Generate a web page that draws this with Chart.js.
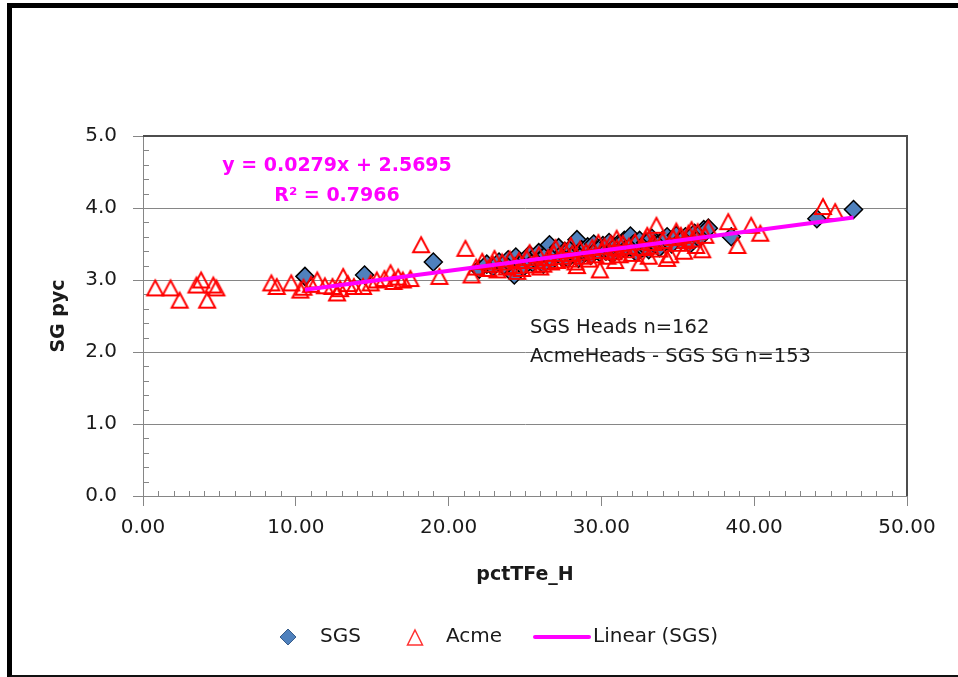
<!DOCTYPE html>
<html><head><meta charset="utf-8">
<script src="https://cdn.jsdelivr.net/npm/chart.js@4.4.0/dist/chart.umd.min.js"></script>
<style>
html,body{margin:0;padding:0;background:#fff;overflow:hidden;}
#wrap{position:relative;width:958px;height:677px;overflow:hidden;}
#frame{position:absolute;left:7px;top:3px;width:1000px;height:675px;box-sizing:border-box;border-top:5px solid #000;border-left:5px solid #000;border-bottom:3px solid #111;pointer-events:none;}
canvas{position:absolute;left:0;top:0;}
</style></head><body>
<div id="wrap"><canvas id="c" width="958" height="677"></canvas><div id="frame"></div></div>
<script>
// ---- data ----
const sgsX = [10.6,14.5,19.0,22.0,22.5,22.9,23.3,23.6,23.9,24.1,24.3,24.4,24.7,24.9,25.1,25.3,25.5,25.7,25.9,26.1,26.2,26.4,26.6,26.8,27.0,27.2,27.4,27.6,27.8,28.0,28.2,28.4,28.5,28.7,28.9,29.1,29.3,29.5,29.7,29.9,30.1,30.3,30.5,30.7,30.9,31.1,31.3,31.5,31.7,31.9,32.1,32.3,32.5,32.7,32.9,33.1,33.3,33.5,33.8,34.0,34.3,34.6,34.9,35.2,35.5,35.8,36.1,36.4,36.7,37.0,38.5,44.1,46.5];
const sgsY = [3.05,3.07,3.25,3.15,3.22,3.18,3.25,3.20,3.28,3.22,3.07,3.32,3.25,3.18,3.30,3.35,3.24,3.28,3.38,3.30,3.22,3.35,3.49,3.28,3.38,3.45,3.32,3.40,3.30,3.44,3.36,3.56,3.30,3.42,3.38,3.46,3.34,3.50,3.42,3.38,3.48,3.40,3.52,3.36,3.46,3.50,3.42,3.55,3.45,3.61,3.50,3.38,3.55,3.45,3.52,3.42,3.58,3.50,3.45,3.55,3.60,3.50,3.62,3.55,3.60,3.50,3.65,3.58,3.70,3.72,3.60,3.85,3.98];
const acmeX = [0.8,1.8,2.4,3.5,3.8,4.2,4.6,4.8,8.4,8.75,9.7,10.3,10.5,11.0,11.4,11.9,12.4,12.7,12.9,13.1,13.4,13.8,14.4,14.9,15.3,15.8,16.2,16.4,16.7,17.0,17.5,18.2,19.4,21.1,21.5,
  21.8,22.2,22.6,22.9,23.0,23.2,23.5,23.8,24.0,24.3,24.5,24.6,24.8,25.1,25.3,25.5,25.7,25.9,26.0,26.2,26.5,26.7,26.9,27.0,27.1,27.4,27.6,27.9,28.0,28.1,28.3,28.4,28.6,28.8,29.0,29.2,29.4,29.6,29.8,29.9,30.0,30.2,30.4,30.6,30.8,30.9,31.0,31.0,31.2,31.4,31.6,31.8,32.0,32.2,32.5,32.7,32.9,33.0,33.1,33.2,33.4,33.6,33.8,34.0,34.3,34.5,34.7,34.9,35.0,35.2,35.4,35.5,35.7,35.9,36.0,36.2,36.3,36.6,36.8,37.0,
  38.3,38.9,39.8,40.4,44.5,45.3];
const acmeY = [2.89,2.89,2.72,2.93,3.00,2.72,2.93,2.89,2.96,2.91,2.96,2.86,2.90,2.94,3.00,2.92,2.91,2.82,2.88,3.05,2.95,2.91,2.91,2.96,3.00,3.02,3.10,2.98,3.04,3.00,3.02,3.49,3.05,3.44,3.07,
  3.18,3.26,3.16,3.22,3.30,3.14,3.25,3.18,3.29,3.20,3.12,3.27,3.16,3.31,3.38,3.21,3.27,3.35,3.18,3.22,3.31,3.25,3.37,3.45,3.27,3.33,3.41,3.29,3.48,3.37,3.25,3.20,3.43,3.33,3.39,3.29,3.45,3.35,3.52,3.14,3.41,3.47,3.33,3.51,3.39,3.27,3.45,3.58,3.35,3.51,3.42,3.47,3.37,3.53,3.24,3.45,3.57,3.62,3.33,3.47,3.52,3.76,3.43,3.55,3.30,3.35,3.59,3.68,3.51,3.62,3.40,3.55,3.65,3.70,3.57,3.48,3.67,3.42,3.62,3.72,
  3.81,3.48,3.76,3.65,4.02,3.95];
const trendX = [10.6, 46.5];
const trendY = [2.865, 3.867];
const xTickValues = [0, 10, 20, 30, 40, 50];
const yTickValues = [0, 1, 2, 3, 4, 5];
const seriesNames = ['SGS', 'Acme', 'Linear (SGS)'];
const eqText = 'y = 0.0279x + 2.5695';
const r2Text = 'R\u00B2 = 0.7966';
const noteLines = ['SGS Heads n=162', 'AcmeHeads - SGS SG n=153'];

const FONT = '"DejaVu Sans", "Liberation Sans", sans-serif';
const GRID = '#868686';
const TXT = '#1a1a1a';

function pts(xs, ys){ return xs.map((x,i)=>({x, y: ys[i]})); }

// triangle marker image (hollow red, as in reference)
function triImg(w, h, lw, color){
  const c = document.createElement('canvas');
  c.width = w + 4; c.height = h + 4;
  const g = c.getContext('2d');
  g.strokeStyle = color; g.lineWidth = lw; g.lineJoin = 'miter';
  g.beginPath();
  g.moveTo(c.width/2, 2 + lw/2);
  g.lineTo(c.width - 2 - lw/2, c.height - 2 - lw/2);
  g.lineTo(2 + lw/2, c.height - 2 - lw/2);
  g.closePath(); g.stroke();
  return c;
}
const triMarker = triImg(18, 17, 2, '#ff0000');

const extras = {
  id: 'extras',
  beforeDatasetsDraw(chart){
    const {ctx, chartArea:a, scales:{x, y}} = chart;
    ctx.save();
    ctx.strokeStyle = GRID; ctx.lineWidth = 1;
    ctx.beginPath();
    for (let k = 1; k < 25; k++){
      if (k % 5 === 0) continue;
      const py = Math.round(y.getPixelForValue(k/5)) + 0.5;
      ctx.moveTo(a.left, py); ctx.lineTo(a.left + 6, py);
    }
    for (let k = 1; k < 50; k++){
      if (k % 10 === 0) continue;
      const px = Math.round(x.getPixelForValue(k)) + 0.5;
      ctx.moveTo(px, a.bottom); ctx.lineTo(px, a.bottom - 5);
    }
    ctx.stroke();
    // plot-area border top and right
    ctx.strokeStyle = '#4d4d4d'; ctx.lineWidth = 2;
    ctx.beginPath();
    ctx.moveTo(a.left, a.top); ctx.lineTo(a.right, a.top); ctx.lineTo(a.right, a.bottom);
    ctx.stroke();
    ctx.restore();
  },
  afterDraw(chart){
    const {ctx} = chart;
    ctx.save();
    // trendline equation
    ctx.fillStyle = '#ff00ff';
    ctx.font = 'bold 19px ' + FONT;
    ctx.textAlign = 'center'; ctx.textBaseline = 'alphabetic';
    ctx.fillText(eqText, 337, 171);
    ctx.fillText(r2Text, 337, 201);
    // notes
    ctx.fillStyle = TXT;
    ctx.font = '19.5px ' + FONT;
    ctx.textAlign = 'left';
    ctx.fillText(noteLines[0], 530, 333);
    ctx.fillText(noteLines[1], 530, 362);
    // legend
    const ly = 637;
    ctx.font = '20px ' + FONT;
    ctx.textBaseline = 'middle';
    ctx.beginPath();
    ctx.moveTo(288, ly - 8); ctx.lineTo(296, ly); ctx.lineTo(288, ly + 8); ctx.lineTo(280, ly); ctx.closePath();
    ctx.fillStyle = '#4f81bd'; ctx.fill();
    ctx.strokeStyle = '#385d8a'; ctx.lineWidth = 1; ctx.stroke();
    ctx.fillStyle = TXT; ctx.fillText(seriesNames[0], 320, ly);
    ctx.beginPath();
    ctx.moveTo(415, ly - 7); ctx.lineTo(422.5, ly + 8); ctx.lineTo(407.5, ly + 8); ctx.closePath();
    ctx.strokeStyle = '#ff3333'; ctx.lineWidth = 1.5; ctx.stroke();
    ctx.fillStyle = TXT; ctx.fillText(seriesNames[1], 446, ly);
    ctx.beginPath(); ctx.moveTo(535, ly); ctx.lineTo(589, ly);
    ctx.strokeStyle = '#ff00ff'; ctx.lineWidth = 4; ctx.lineCap = 'round'; ctx.stroke();
    ctx.fillStyle = TXT; ctx.fillText(seriesNames[2], 593, ly);
    ctx.restore();
  }
};

new Chart(document.getElementById('c'), {
  type: 'scatter',
  data: {
    datasets: [
      { label: seriesNames[0], data: pts(sgsX, sgsY), order: 2,
        pointStyle: 'rectRot', pointRadius: 9, pointHoverRadius: 9,
        backgroundColor: '#4f81bd', borderColor: '#000000', borderWidth: 1.5 },
      { label: seriesNames[1], data: pts(acmeX, acmeY), order: 1,
        pointStyle: triMarker, pointRadius: 9,
        backgroundColor: 'rgba(0,0,0,0)', borderColor: '#ff0000', borderWidth: 2 },
      { label: seriesNames[2], data: pts(trendX, trendY), order: 0, type: 'line',
        showLine: true, borderColor: '#ff00ff', borderWidth: 4, pointRadius: 0, fill: false }
    ]
  },
  options: {
    responsive: false, animation: false, devicePixelRatio: 1,
    layout: { padding: { left: 20, right: 51, top: 136, bottom: 80 } },
    plugins: { legend: { display: false }, tooltip: { enabled: false } },
    scales: {
      x: {
        type: 'linear', min: 0, max: 50,
        afterBuildTicks: s => { s.ticks = xTickValues.map(v => ({value: v})); },
        afterFit: s => { s.height = 101; },
        ticks: { callback: v => Number(v).toFixed(2), font: {family: FONT, size: 20}, color: TXT, padding: 10, maxRotation: 0 },
        grid: { drawOnChartArea: false, drawTicks: true, tickLength: 10, color: GRID },
        border: { color: GRID, width: 1 },
        title: { display: true, text: 'pctTFe_H', font: {family: FONT, size: 19, weight: 'bold'}, color: TXT, padding: {top: 0, bottom: 11} }
      },
      y: {
        type: 'linear', min: 0, max: 5,
        afterBuildTicks: s => { s.ticks = yTickValues.map(v => ({value: v})); },
        afterFit: s => { s.width = 123; },
        ticks: { callback: v => Number(v).toFixed(1), font: {family: FONT, size: 20}, color: TXT, padding: 16 },
        grid: { drawTicks: true, tickLength: 10, color: GRID },
        border: { color: GRID, width: 1 },
        title: { display: true, text: 'SG pyc', font: {family: FONT, size: 19, weight: 'bold'}, color: TXT, padding: {top: 28, bottom: 0} }
      }
    }
  },
  plugins: [extras]
});
</script>
</body></html>
